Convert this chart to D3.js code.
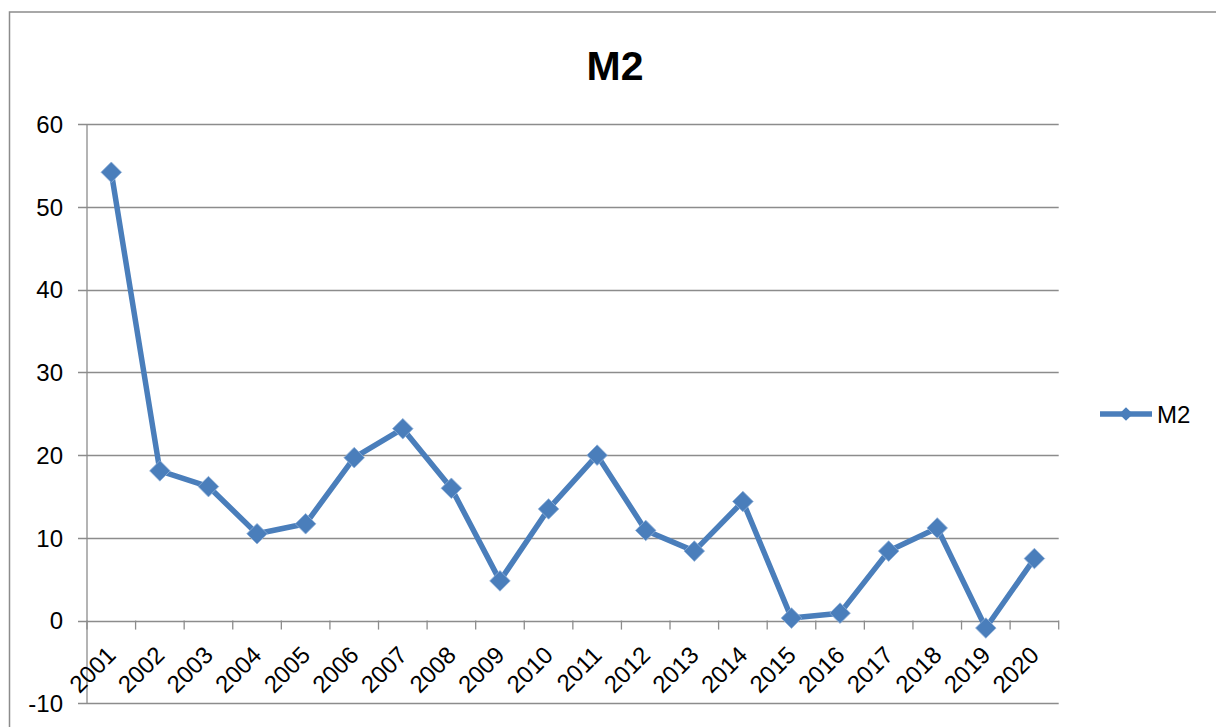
<!DOCTYPE html>
<html lang="en">
<head>
    <meta charset="UTF-8">
    <title>M2</title>
    <script src="https://d3js.org/d3.v7.min.js"></script>
    <style>
        html, body {
            margin: 0;
            background: #fff;
        }
        svg text {
            font-family: "Liberation Sans", Arial, sans-serif;
            fill: #000;
        }
    </style>
</head>
<body>
    <div id="vis"></div>
    <script>
        // data
        var years = ["2001", "2002", "2003", "2004", "2005", "2006", "2007", "2008", "2009", "2010",
                     "2011", "2012", "2013", "2014", "2015", "2016", "2017", "2018", "2019", "2020"];
        var m2 = [54.2, 18.1, 16.2, 10.5, 11.7, 19.7, 23.2, 16.0, 4.8, 13.5,
                  20.0, 10.9, 8.4, 14.4, 0.3, 0.9, 8.4, 11.2, -0.9, 7.5];
        var yTicks = [-10, 0, 10, 20, 30, 40, 50, 60];

        var W = 1216, H = 727;
        // plot box (window.top is read-only, so no plain "top" here)
        var plotLeft = 87, plotRight = 1058.7, plotTop = 124.3, plotBottom = 703.3;
        var lineColor = "#4a7ebb";
        var gridColor = "#8c8c8c";

        var svg = d3.select("#vis").append("svg")
            .attr("width", W)
            .attr("height", H);

        // chart frame
        svg.append("path")
            .attr("d", "M9.5," + (H + 5) + "V12H" + (W + 5))
            .attr("fill", "none")
            .attr("stroke", gridColor)
            .attr("stroke-width", 1.5);

        var x = d3.scaleBand()
            .domain(years)
            .range([plotLeft, plotRight]);

        var y = d3.scaleLinear()
            .domain([-10, 60])
            .range([plotBottom, plotTop]);

        // horizontal gridlines with the little ticks to the left
        svg.append("g")
            .selectAll("line")
            .data(yTicks)
            .enter().append("line")
                .attr("x1", plotLeft - 9)
                .attr("x2", plotRight)
                .attr("y1", function(d) { return Math.round(y(d)) + 0.5; })
                .attr("y2", function(d) { return Math.round(y(d)) + 0.5; })
                .attr("stroke", gridColor)
                .attr("stroke-width", 1.3);

        // y axis line
        svg.append("line")
            .attr("x1", plotLeft).attr("x2", plotLeft)
            .attr("y1", plotTop).attr("y2", plotBottom)
            .attr("stroke", gridColor)
            .attr("stroke-width", 1.3);

        // y tick labels
        svg.append("g")
            .selectAll("text")
            .data(yTicks)
            .enter().append("text")
                .attr("x", plotLeft - 24)
                .attr("y", function(d) { return y(d); })
                .attr("dy", "0.36em")
                .attr("text-anchor", "end")
                .style("font-size", "24px")
                .text(function(d) { return d; });

        // category ticks under the zero line
        var bounds = years.map(function(d) { return x(d); }).concat([plotRight]);
        svg.append("g")
            .selectAll("line")
            .data(bounds)
            .enter().append("line")
                .attr("x1", function(d) { return d; })
                .attr("x2", function(d) { return d; })
                .attr("y1", y(0))
                .attr("y2", y(0) + 9)
                .attr("stroke", gridColor)
                .attr("stroke-width", 1.3);

        // rotated year labels
        svg.append("g")
            .selectAll("text")
            .data(years)
            .enter().append("text")
                .attr("transform", function(d) {
                    var cx = x(d) + x.bandwidth() / 2;
                    return "translate(" + (cx + 6) + "," + (y(0) + 36) + ") rotate(-45)";
                })
                .attr("text-anchor", "end")
                .style("font-size", "24px")
                .text(function(d) { return d; });

        // the series
        var pts = years.map(function(d, i) { return [x(d) + x.bandwidth() / 2, y(m2[i])]; });

        svg.append("path")
            .datum(pts)
            .attr("d", d3.line())
            .attr("fill", "none")
            .attr("stroke", lineColor)
            .attr("stroke-width", 5.5)
            .attr("stroke-linejoin", "round");

        var diamond = d3.symbol().type(d3.symbolDiamond2).size(270);

        svg.append("g")
            .selectAll("path")
            .data(pts)
            .enter().append("path")
                .attr("transform", function(d) { return "translate(" + d[0] + "," + d[1] + ")"; })
                .attr("d", diamond)
                .attr("fill", lineColor)
                .attr("stroke", "#8fb0d8")
                .attr("stroke-width", 0.8);

        // title
        svg.append("text")
            .attr("x", 615)
            .attr("y", 79.5)
            .attr("text-anchor", "middle")
            .style("font-size", "41px")
            .style("font-weight", "bold")
            .text("M2");

        // legend
        var lg = svg.append("g").attr("transform", "translate(0,414)");
        lg.append("line")
            .attr("x1", 1100).attr("x2", 1152)
            .attr("stroke", lineColor)
            .attr("stroke-width", 5.5);
        lg.append("path")
            .attr("transform", "translate(1126,0)")
            .attr("d", d3.symbol().type(d3.symbolDiamond2).size(120))
            .attr("fill", lineColor);
        lg.append("text")
            .attr("x", 1157)
            .attr("dy", "0.36em")
            .style("font-size", "24px")
            .text("M2");
    </script>
</body>
</html>
